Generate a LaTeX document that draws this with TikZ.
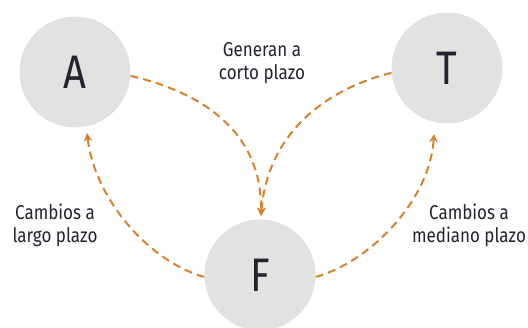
\documentclass[tikz,border=0pt]{standalone}
\usepackage{fontspec}
\setmainfont{Fira Sans}[FakeStretch=0.85]
\usetikzlibrary{arrows.meta}
\definecolor{cyclegray}{HTML}{E1E2E2}
\definecolor{cycleorange}{HTML}{D9822B}
\definecolor{cycletext}{HTML}{22232E}
\tikzset{
  stage/.style={circle, fill=cyclegray, minimum size=111pt, inner sep=0pt,
    text=cycletext, font=\fontsize{47}{50}\selectfont},
  link/.style={draw=cycleorange, line width=2pt, dash pattern=on 8pt off 5pt,
    -{Stealth[length=8pt,width=8pt,inset=2pt]}},
  caption/.style={align=center, text=cycletext, font=\fontsize{20}{23}\selectfont}
}
\begin{document}
\begin{tikzpicture}[x=1pt,y=-1pt]
  \useasboundingbox (0,0) rectangle (528,327);
  \clip (0,0) rectangle (528,327);
  % the three stages
  \node[stage] (A) at (75,72) {A};
  \node[stage] (T) at (447,68) {T};
  \node[stage] (F) at (260,275) {F};
  % free ends of the connectors
  \coordinate (fTop) at (261,216);
  \coordinate (aBot) at (87,133);
  \coordinate (tBot) at (434,134);
  % connectors
  \draw[link] (A.-4) .. controls (200,92) and (262,130) .. (fTop);
  \draw[link] (T.185) .. controls (330,88) and (268,130) .. (fTop);
  \draw[link] (F.182) .. controls (150,262) and (95,200) .. (aBot);
  \draw[link] (F.-2) .. controls (370,262) and (430,200) .. (tBot);
  % captions
  \node[caption] (g) at (262,63) {Generan a\\corto plazo};
  \node[caption] (l) at (55,225) {Cambios a\\largo plazo};
  \node[caption] (m) at (469,225) {Cambios a\\mediano plazo};
\end{tikzpicture}
\end{document}
